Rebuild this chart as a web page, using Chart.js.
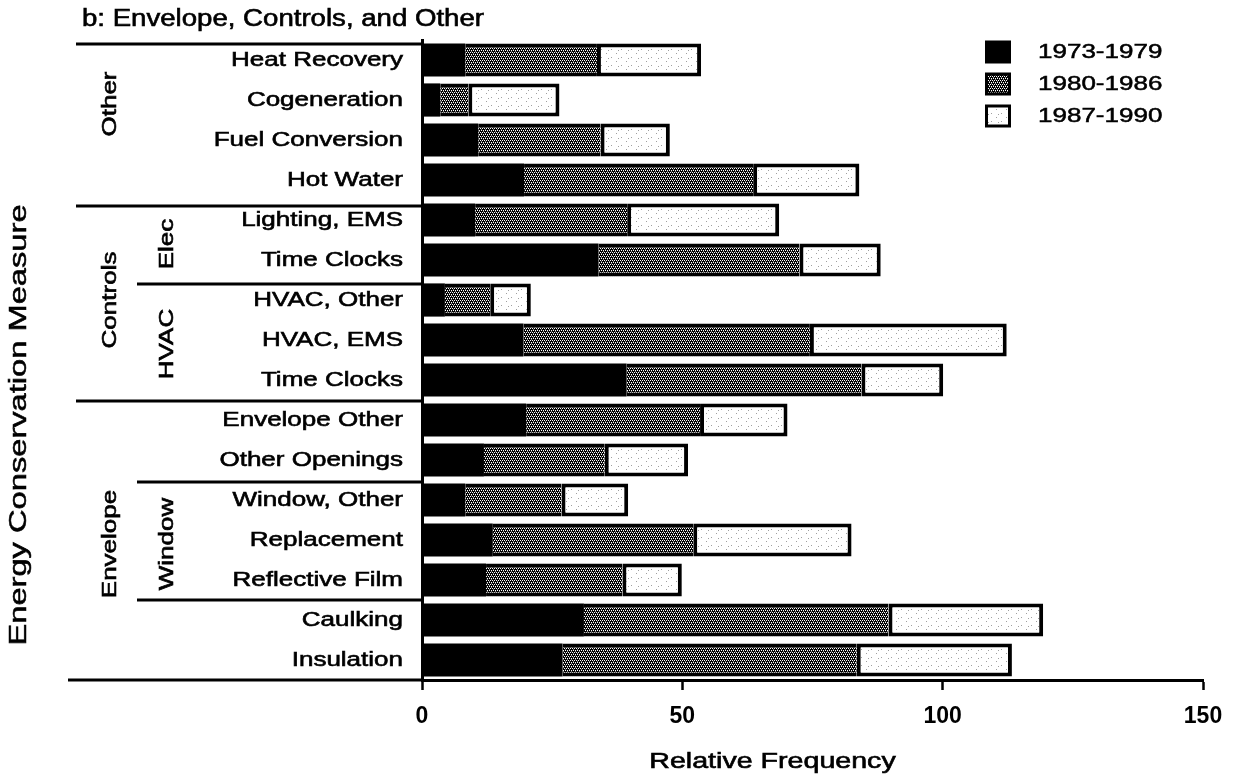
<!DOCTYPE html>
<html>
<head>
<meta charset="utf-8">
<title>Envelope, Controls, and Other</title>
<script src="https://cdn.jsdelivr.net/npm/chart.js@4.4.1/dist/chart.umd.min.js"></script>
<style>
  html, body { margin: 0; padding: 0; background: #fff; }
  canvas { display: block; }
</style>
</head>
<body>
<canvas id="chart" width="1244" height="777" style="width:1244px;height:777px"></canvas>
<script>
// Energy conservation measures, top to bottom
const categories = [
  'Heat Recovery', 'Cogeneration', 'Fuel Conversion', 'Hot Water',
  'Lighting, EMS', 'Time Clocks',
  'HVAC, Other', 'HVAC, EMS', 'Time Clocks',
  'Envelope Other', 'Other Openings',
  'Window, Other', 'Replacement', 'Reflective Film',
  'Caulking', 'Insulation'
];

// Relative frequency contributed by each period (stacked)
const freq1973to1979 = [8.3, 3.5, 10.8, 19.6, 10.2, 33.9, 4.4, 19.5, 39.3, 20.0, 11.9, 8.3, 13.6, 12.3, 31.1, 27.0];
const freq1980to1986 = [25.3, 5.4, 23.5, 44.0, 29.2, 38.6, 8.7, 55.0, 45.1, 33.4, 23.2, 18.5, 38.5, 26.2, 58.5, 56.5];
const freq1987to1990 = [20.0, 17.5, 13.3, 20.4, 29.2, 15.6, 7.8, 37.8, 15.7, 16.8, 16.0, 12.8, 30.4, 11.4, 29.7, 29.8];

const periods = ['1973-1979', '1980-1986', '1987-1990'];
const xTickValues = [0, 50, 100, 150];

// Category groupings shown at the left (index ranges into categories)
const groupLabels = [
  { text: 'Other',    from: 0,  to: 3,  level: 0, shift: -16 },
  { text: 'Controls', from: 4,  to: 8,  level: 0, shift: 0 },
  { text: 'Elec',     from: 4,  to: 5,  level: 1, shift: 4 },
  { text: 'HVAC',     from: 6,  to: 8,  level: 1, shift: 4 },
  { text: 'Envelope', from: 9,  to: 15, level: 0, shift: 4 },
  { text: 'Window',   from: 11, to: 13, level: 1, shift: 4 }
];
// Separator rules drawn above these category indices
const majorRules = [0, 4, 9];
const minorRules = [6, 11, 14];

const FONT = '"Liberation Sans", Arial, Helvetica, sans-serif';
const STRETCH = 1.3;

// Stipple fills for the two later periods
function makePattern(kind) {
  const c = document.createElement('canvas');
  const g = c.getContext('2d');
  if (kind === 'dark') {
    c.width = 4; c.height = 4;
    g.fillStyle = '#000'; g.fillRect(0, 0, 4, 4);
    g.fillStyle = '#fff';
    [[0, 0], [2, 0], [1, 2], [3, 2]].forEach(([x, y]) => g.fillRect(x, y, 1, 1));
    g.fillStyle = '#777';
    [[1, 1], [3, 3]].forEach(([x, y]) => g.fillRect(x, y, 1, 1));
  } else {
    c.width = 10; c.height = 8;
    g.fillStyle = '#fff'; g.fillRect(0, 0, 10, 8);
    g.fillStyle = '#a0a0a0';
    [[1, 1], [6, 5], [8, 2]].forEach(([x, y]) => g.fillRect(x, y, 1, 1));
  }
  return g.createPattern(c, 'repeat');
}
const darkFill = makePattern('dark');
const lightFill = makePattern('light');

function drawText(ctx, text, x, y, o) {
  ctx.save();
  ctx.font = (o.weight || 'normal') + ' ' + o.size + 'px ' + FONT;
  ctx.translate(x, y);
  if (o.rotate) ctx.rotate(o.rotate);
  ctx.scale(o.sx || 1, 1);
  ctx.textAlign = o.align || 'left';
  ctx.textBaseline = 'middle';
  ctx.fillStyle = '#000';
  ctx.fillText(text, 0, 0);
  if (o.bolden) {
    ctx.lineWidth = o.bolden;
    ctx.strokeStyle = '#000';
    ctx.strokeText(text, 0, 0);
  }
  ctx.restore();
}

function rule(ctx, x1, x2, y, w) {
  ctx.save();
  ctx.strokeStyle = '#000';
  ctx.lineWidth = w;
  ctx.beginPath();
  ctx.moveTo(x1, y);
  ctx.lineTo(x2, y);
  ctx.stroke();
  ctx.restore();
}

const decorations = {
  id: 'decorations',
  afterDraw(chart) {
    const ctx = chart.ctx;
    const ys = chart.scales.y;
    const area = chart.chartArea;
    const step = ys.getPixelForValue(1) - ys.getPixelForValue(0);
    const boundary = i => ys.getPixelForValue(i) - step / 2;

    // Panel title
    drawText(ctx, 'b: Envelope, Controls, and Other', 82, 20, { size: 23, sx: 1.2, bolden: 0.6 });

    // Category labels
    categories.forEach((name, i) => {
      drawText(ctx, name, area.left - 19, ys.getPixelForValue(i), { size: 20, sx: STRETCH, align: 'right', bolden: 0.6 });
    });

    // Group separator rules
    majorRules.forEach(i => rule(ctx, 76, area.left, boundary(i) + (i === 0 ? 4 : i === 4 ? 6 : 1), 3));
    minorRules.forEach(i => rule(ctx, 137, area.left, boundary(i) + (i === 6 ? 4 : i === 11 ? 2 : 0), 3));
    // Baseline continues under the label column
    rule(ctx, 68, area.left, area.bottom, 3);

    // Group labels, rotated
    groupLabels.forEach(g => {
      const yc = (ys.getPixelForValue(g.from) + ys.getPixelForValue(g.to)) / 2 + g.shift;
      const x = g.level === 0 ? 110 : 167;
      drawText(ctx, g.text, x, yc, { size: 20, sx: STRETCH, align: 'center', rotate: -Math.PI / 2, bolden: 0.6 });
    });

    // Axis titles
    drawText(ctx, 'Energy Conservation Measure', 20, 425, { size: 23, sx: 1.42, align: 'center', rotate: -Math.PI / 2, bolden: 0.5 });
    drawText(ctx, 'Relative Frequency', (area.left + area.right) / 2 - 40, 762, { size: 22, sx: STRETCH, align: 'center', bolden: 0.6 });

    // Legend
    const fills = [null, darkFill, lightFill];
    periods.forEach((p, k) => {
      const yc = 52 + k * 32;
      const bx = 985, bw = 26, bh = 23;
      ctx.save();
      ctx.fillStyle = '#000';
      ctx.fillRect(bx, yc - bh / 2, bw, bh);
      if (fills[k]) {
        ctx.fillStyle = fills[k];
        ctx.fillRect(bx + 3, yc - bh / 2 + 3, bw - 6, bh - 6);
      }
      ctx.restore();
      drawText(ctx, p, 1038, yc, { size: 20, sx: STRETCH, bolden: 0.5 });
    });
  }
};

new Chart(document.getElementById('chart'), {
  type: 'bar',
  data: {
    labels: categories,
    datasets: [
      { label: periods[0], data: freq1973to1979, backgroundColor: '#000', borderWidth: 0 },
      { label: periods[1], data: freq1980to1986, backgroundColor: darkFill, borderColor: '#000',
        borderWidth: { top: 4, bottom: 4, left: 0, right: 0 }, borderSkipped: false },
      { label: periods[2], data: freq1987to1990, backgroundColor: lightFill, borderColor: '#000',
        borderWidth: 4, borderSkipped: false }
    ]
  },
  options: {
    indexAxis: 'y',
    responsive: false,
    animation: false,
    devicePixelRatio: 1,
    layout: { padding: { top: 40, right: 41, bottom: 0, left: 0 } },
    datasets: { bar: { barPercentage: 0.83, categoryPercentage: 1 } },
    plugins: { legend: { display: false }, tooltip: { enabled: false }, title: { display: false } },
    scales: {
      x: {
        stacked: true, min: 0, max: 150,
        afterBuildTicks(s) { s.ticks = xTickValues.map(v => ({ value: v })); },
        ticks: { color: '#000', font: { family: FONT, size: 23, weight: 'bold' }, padding: 13, maxRotation: 0, autoSkip: false },
        grid: { display: true, drawOnChartArea: false, drawTicks: true, tickLength: 10, tickWidth: 2.5, tickColor: '#000' },
        border: { display: true, color: '#000', width: 3 },
        afterFit(s) { s.height = 97; }
      },
      y: {
        stacked: true,
        ticks: { display: false },
        grid: { display: false },
        border: { display: true, color: '#000', width: 3 },
        afterFit(s) { s.width = 422; }
      }
    }
  },
  plugins: [decorations]
});
</script>
</body>
</html>
